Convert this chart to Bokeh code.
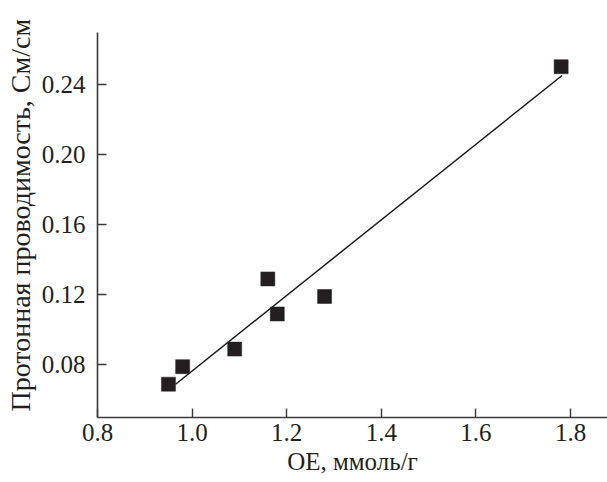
from bokeh.plotting import figure
from bokeh.models import FixedTicker, NumeralTickFormatter, Title, Range1d, ColumnDataSource
from bokeh.embed import file_html
from bokeh.resources import INLINE

# data
ie = [0.95, 0.98, 1.09, 1.16, 1.18, 1.28, 1.78]          # ОЕ, ммоль/г
sigma = [0.069, 0.079, 0.089, 0.129, 0.109, 0.119, 0.250]  # См/см
fit_x = [0.965, 1.782]
fit_y = [0.069, 0.245]
x_ticks = [0.8, 1.0, 1.2, 1.4, 1.6, 1.8]
y_ticks = [0.08, 0.12, 0.16, 0.20, 0.24]

FONT = "Liberation Serif"
INK = "#231f20"
FS = "25px"

p = figure(width=607, height=482, output_backend="svg", toolbar_location=None,
           x_range=Range1d(0.8, 1.878), y_range=Range1d(0.05, 0.2695),
           min_border_left=96, min_border_right=0, min_border_top=32, min_border_bottom=65)
p.outline_line_color = None
p.grid.grid_line_color = None
p.background_fill_color = "white"
p.border_fill_color = "white"

p.line(fit_x, fit_y, line_color="#111111", line_width=1.4)
src = ColumnDataSource(dict(x=ie, y=sigma))
p.scatter("x", "y", source=src, marker="square", size=14, fill_color=INK, line_color=INK, line_width=0.5)

for ax in (p.xaxis[0], p.yaxis[0]):
    ax.axis_line_color = "#3a3a3a"
    ax.axis_line_width = 1.6
    ax.major_tick_line_color = "#3a3a3a"
    ax.major_tick_line_width = 1.4
    ax.major_tick_in = 9
    ax.major_tick_out = 0
    ax.minor_tick_line_color = None
    ax.major_label_text_font = FONT
    ax.major_label_text_font_size = FS
    ax.major_label_text_color = INK
    ax.axis_label_text_font = FONT
    ax.axis_label_text_font_size = FS
    ax.axis_label_text_color = INK
    ax.axis_label_text_font_style = "normal"

p.xaxis.ticker = FixedTicker(ticks=x_ticks)
p.xaxis.formatter = NumeralTickFormatter(format="0.0")
p.xaxis.major_label_standoff = 6
p.xaxis.axis_label = "ОЕ, ммоль/г"
p.xaxis.axis_label_standoff = 4

p.yaxis.ticker = FixedTicker(ticks=y_ticks)
p.yaxis.formatter = NumeralTickFormatter(format="0.00")
p.yaxis.major_label_standoff = 12

ylab = Title(text="Протонная проводимость, См/см", align="left", offset=6,
             text_font=FONT, text_font_size="28px", text_color=INK,
             text_font_style="normal", standoff=5)
p.add_layout(ylab, "left")

open("out.html", "w").write(file_html(p, INLINE))
